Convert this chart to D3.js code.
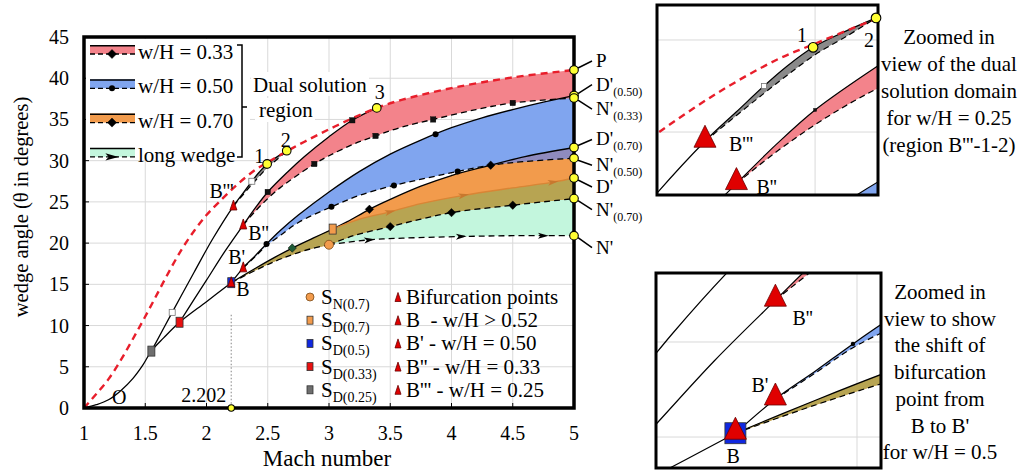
<!DOCTYPE html>
<html>
<head>
<meta charset="utf-8">
<script src="https://cdn.jsdelivr.net/npm/d3@7/dist/d3.min.js"></script>
<style>
  body { margin: 0; background: #fff; }
  svg, svg text { font-family: "Liberation Serif", "DejaVu Serif", "Tinos", "Times New Roman", Times, serif; }
  svg text { fill: #000; }
</style>
</head>
<body>
<svg id="chart" width="1028" height="472" font-family="Liberation Serif, DejaVu Serif, serif"></svg>
<script>
// ---- values: [Mach, wedge angle] ----
const machTicks = [1, 1.5, 2, 2.5, 3, 3.5, 4, 4.5, 5];
const thetaTicks = [0, 5, 10, 15, 20, 25, 30, 35, 40, 45];

// red dashed curve O -> P
const curveP = [[1, 0], [1.1, 1.7], [1.2, 3.5], [1.3, 5.8], [1.4, 8.4], [1.5, 11.1], [1.6, 13.9],
  [1.7, 16.7], [1.8, 19.3], [1.9, 21.5], [2.0, 23.4], [2.1, 24.95], [2.25, 27.1], [2.4, 28.9],
  [2.5, 29.8], [2.65, 31.1], [2.8, 32.3], [3.0, 33.8], [3.2, 35.2], [3.39, 36.4], [3.6, 37.4],
  [4.0, 38.8], [4.5, 40.1], [5.0, 41.0]];
// solid curve O -> B
const curveOB = [[1, 0], [1.1, 0.4], [1.2, 1.0], [1.3, 2.1], [1.4, 3.6], [1.48, 5.2], [1.55, 6.9],
  [1.65, 8.5], [1.78, 10.4], [2.0, 12.9], [2.202, 15.2]];
// w/H = 0.25
const w025Solid = [[1.55, 6.9], [1.72, 11.6], [1.9, 16.5], [2.05, 20.5], [2.22, 24.5], [2.30, 26.1],
  [2.37, 27.5], [2.43, 28.6], [2.495, 29.6], [2.57, 30.4], [2.655, 31.2]];
const w025Dash = [[2.22, 24.5], [2.30, 25.9], [2.37, 27.1], [2.43, 28.1], [2.5, 29.2], [2.58, 30.2], [2.655, 31.2]];
// w/H = 0.33
const w033Solid = [[1.78, 10.4], [1.9, 13.2], [2.0, 15.5], [2.15, 19.0], [2.30, 22.2], [2.4, 24.3],
  [2.5, 26.2], [2.66, 28.6], [2.8, 30.5], [3.0, 32.9], [3.19, 34.9], [3.39, 36.4]];
const w033Dash = [[2.30, 22.2], [2.4, 23.9], [2.5, 25.4], [2.6, 26.7], [2.7, 27.8], [2.88, 29.6],
  [3.0, 30.6], [3.2, 32.0], [3.38, 33.0], [3.6, 34.1], [3.85, 35.0], [4.2, 36.2], [4.5, 37.0], [5.0, 37.6]];
// w/H = 0.50
const w050Solid = [[2.202, 15.2], [2.30, 17.0], [2.40, 18.5], [2.49, 19.9], [2.6, 21.5], [2.75, 23.4],
  [3.0, 26.2], [3.25, 28.7], [3.5, 30.8], [3.75, 32.5], [4.0, 34.0], [4.25, 35.2], [4.5, 36.2],
  [4.75, 37.1], [5.0, 37.9]];
const w050Dash = [[2.30, 17.0], [2.40, 18.4], [2.49, 19.7], [2.6, 20.9], [2.75, 22.5], [3.02, 24.4],
  [3.25, 25.8], [3.53, 27.0], [3.8, 27.9], [4.05, 28.7], [4.32, 29.45], [4.6, 29.9], [5.0, 30.3]];
// w/H = 0.70 and long wedge (common part starts at B)
const sharedTop = [[2.202, 15.2], [2.4, 16.95], [2.56, 18.3], [2.70, 19.4], [2.87, 20.6], [3.03, 21.7]];
const sharedBottom = [[2.202, 15.2], [2.4, 16.7], [2.56, 17.8], [2.7, 18.6], [2.85, 19.3], [3.0, 19.8]];
const w070Solid = [[3.03, 21.7], [3.15, 22.6], [3.33, 24.1], [3.5, 25.3], [3.75, 26.9], [4.0, 28.2],
  [4.32, 29.45], [4.6, 30.5], [5.0, 31.6]];
const w070Dash = [[3.0, 19.8], [3.2, 20.9], [3.5, 22.0], [3.75, 22.9], [4.0, 23.7], [4.5, 24.6], [5.0, 25.4]];
const longTop = [[3.03, 21.7], [3.25, 22.9], [3.5, 23.8], [3.75, 24.8], [4.1, 25.8], [4.5, 26.7],
  [4.83, 27.4], [5.0, 27.9]];
const longDash = [[3.0, 19.8], [3.33, 20.4], [3.6, 20.6], [4.08, 20.8], [4.5, 20.9], [5.0, 20.9]];
const crossing = 4.32; // w/H=0.70 upper meets w/H=0.50 lower

// markers on the curves
const w025Marks = [[1.72, 11.6], [2.37, 27.5]];
const w033Marks = [[2.5, 26.2], [3.19, 34.9], [2.88, 29.6], [3.38, 33.0], [3.85, 35.0], [4.5, 37.0]];
const w050Marks = [[2.49, 19.9], [3.87, 33.2], [3.02, 24.4], [3.53, 27.0], [4.05, 28.7]];
const w070Marks = [[3.33, 24.1], [4.32, 29.45], [3.5, 22.0], [4.0, 23.7], [4.5, 24.6]];
const longDiamond = [[2.70, 19.4]];
const longTopArrows = [[3.5, 23.8], [4.1, 25.8], [4.83, 27.4]];
const longDashArrows = [[3.33, 20.4], [4.08, 20.8], [4.75, 20.9]];

const sPoints = [
  { sub: "N(0.7)", shape: "circle", m: 3.0, t: 19.8, fill: "#f29b4c" },
  { sub: "D(0.7)", shape: "square", m: 3.03, t: 21.7, fill: "#f29b4c" },
  { sub: "D(0.5)", shape: "square", m: 2.202, t: 15.2, fill: "#1028e0" },
  { sub: "D(0.33)", shape: "square", m: 1.78, t: 10.4, fill: "#e81010" },
  { sub: "D(0.25)", shape: "square", m: 1.55, t: 6.9, fill: "#6e6e6e" }
];
const bifurcations = [
  { name: "B", m: 2.202, t: 15.2, text: "B  - w/H > 0.52" },
  { name: "B'", m: 2.30, t: 17.0, text: "B' - w/H = 0.50" },
  { name: "B''", m: 2.30, t: 22.2, text: "B'' - w/H = 0.33" },
  { name: "B'''", m: 2.22, t: 24.5, text: "B''' - w/H = 0.25" }
];
const numberedPoints = [
  { label: "1", m: 2.495, t: 29.6 },
  { label: "2", m: 2.655, t: 31.2 },
  { label: "3", m: 3.39, t: 36.4 }
];
const endPoints = [
  { name: "P", sub: "", t: curveP[curveP.length - 1][1], dy: -9 },
  { name: "D'", sub: "(0.50)", t: w050Solid[w050Solid.length - 1][1], dy: -11 },
  { name: "N'", sub: "(0.33)", t: w033Dash[w033Dash.length - 1][1], dy: 11 },
  { name: "D'", sub: "(0.70)", t: w070Solid[w070Solid.length - 1][1], dy: -8 },
  { name: "N'", sub: "(0.50)", t: w050Dash[w050Dash.length - 1][1], dy: 7 },
  { name: "D'", sub: "", t: longTop[longTop.length - 1][1], dy: 9 },
  { name: "N'", sub: "(0.70)", t: w070Dash[w070Dash.length - 1][1], dy: 11 },
  { name: "N'", sub: "", t: longDash[longDash.length - 1][1], dy: 12 }
];
const bifurcationMach = 2.202;

const legendWedges = [
  { label: "w/H = 0.33", fill: "#f3838b", mark: "diamond" },
  { label: "w/H = 0.50", fill: "#80a5ef", mark: "dot" },
  { label: "w/H = 0.70", fill: "#f29b4c", mark: "diamond" },
  { label: "long wedge", fill: "#c3f6dd", mark: "arrow" }
];
const inset1Text = ["Zoomed in", "view of the dual", "solution domain", "for w/H = 0.25", "(region B'''-1-2)"];
const inset2Text = ["Zoomed in", "view to show", "the shift of", "bifurcation", "point from", "B to B'", "for w/H = 0.5"];

// ---- colours ----
const C = {
  red: "#f3838b", blue: "#80a5ef", orange: "#f29b4c", olive: "#b7a452",
  mint: "#c3f6dd", purple: "#8f8bbf", gray: "#8a8a8a",
  redLine: "#e81e2b", orangeLine: "#d98535", grid: "#d9d9d9", yellow: "#ffff33"
};

const svg = d3.select("#chart");
const defs = svg.append("defs");
function clip(id, x0, y0, w, h) {
  defs.append("clipPath").attr("id", id).append("rect")
    .attr("x", x0).attr("y", y0).attr("width", w).attr("height", h);
  return `url(#${id})`;
}

// ---- mark helpers ----
function rectMark(g, cx, cy, w, h, fill, stroke, sw) {
  g.append("rect").attr("x", cx - w / 2).attr("y", cy - h / 2).attr("width", w).attr("height", h)
    .attr("fill", fill).attr("stroke", stroke).attr("stroke-width", sw);
}
function diamondMark(g, cx, cy, r, fill) {
  g.append("path").attr("d", `M${cx},${cy - r}L${cx + r},${cy}L${cx},${cy + r}L${cx - r},${cy}Z`)
    .attr("fill", fill).attr("stroke", "#000").attr("stroke-width", 0.5);
}
function triMark(g, cx, cy, w, h) {
  g.append("path")
    .attr("d", `M${cx},${cy - h / 2}L${cx + w / 2},${cy + h / 2}L${cx - w / 2},${cy + h / 2}Z`)
    .attr("fill", "#e00000").attr("stroke", "#6a0000").attr("stroke-width", 0.8);
}
function arrowMark(g, cx, cy, ang, L, color) {
  g.append("path")
    .attr("d", `M${L * 0.6},0L${-L * 0.6},${-L * 0.33}L${-L * 0.3},0L${-L * 0.6},${L * 0.33}Z`)
    .attr("transform", `translate(${cx},${cy}) rotate(${ang})`).attr("fill", color);
}
function slopeAngle(curve, m, sx, sy) {
  let i = curve.findIndex((d, k) => k < curve.length - 1 && curve[k + 1][0] >= m);
  if (i < 0) i = curve.length - 2;
  const a = curve[i], b = curve[i + 1];
  return Math.atan2(sy(b[1]) - sy(a[1]), sx(b[0]) - sx(a[0])) * 180 / Math.PI;
}

// ---- one view of the data (main plot or zoomed inset) ----
function drawView(g, sx, sy, sz) {
  const line = d3.line().x(d => sx(d[0])).y(d => sy(d[1])).curve(d3.curveCatmullRom.alpha(0.5));
  const band = (top, bot) => line(top) + line(bot.slice().reverse()).replace(/^M/, "L") + "Z";
  const from = (arr, m) => arr.filter(d => d[0] >= m - 1e-9);
  const [mLo, mHi] = sx.domain(), [tLo, tHi] = sy.domain();

  g.append("g").selectAll("line").data(machTicks.filter(v => v > mLo && v < mHi)).join("line")
    .attr("x1", d => sx(d)).attr("x2", d => sx(d)).attr("y1", sy(tLo)).attr("y2", sy(tHi))
    .attr("stroke", C.grid).attr("stroke-width", 1);
  g.append("g").selectAll("line").data(thetaTicks.filter(v => v > tLo && v < tHi)).join("line")
    .attr("y1", d => sy(d)).attr("y2", d => sy(d)).attr("x1", sx(mLo)).attr("x2", sx(mHi))
    .attr("stroke", C.grid).attr("stroke-width", 1);

  const topLong = sharedTop.concat(longTop.slice(1));
  const botLong = sharedBottom.concat(longDash.slice(1));
  const top070 = sharedTop.concat(w070Solid.slice(1));
  const bot070 = sharedBottom.concat(w070Dash.slice(1));
  const fills = [
    [band(topLong, botLong), C.mint],
    [band(top070, bot070), C.orange],
    [band(topLong, bot070), C.olive],
    [band(from(w050Solid, 2.30), w050Dash), C.blue],
    [band(from(top070, crossing), from(w050Dash, crossing)), C.purple],
    [band(from(w033Solid, 2.30).concat(curveP.filter(d => d[0] > 3.39)), w033Dash), C.red],
    [band(from(w025Solid, 2.22), w025Dash), C.gray]
  ];
  g.append("g").selectAll("path").data(fills).join("path")
    .attr("d", d => d[0]).attr("fill", d => d[1]);

  const dash = "6,4";
  const strokes = [
    [curveOB, "#000", null], [w025Solid, "#000", null], [w025Dash, "#000", dash],
    [w033Solid, "#000", null], [w033Dash, "#000", dash],
    [w050Solid, "#000", null], [w050Dash, "#000", dash],
    [sharedTop, "#000", null], [w070Solid, "#000", null], [longTop, C.orangeLine, null],
    [sharedBottom, "#000", dash], [w070Dash, "#000", dash], [longDash, "#000", dash]
  ];
  g.append("g").selectAll("path").data(strokes).join("path")
    .attr("d", d => line(d[0])).attr("fill", "none").attr("stroke", d => d[1])
    .attr("stroke-width", sz.sw).attr("stroke-dasharray", d => d[2]);
  g.append("path").attr("d", line(curveP)).attr("fill", "none").attr("stroke", C.redLine)
    .attr("stroke-width", 2.4).attr("stroke-dasharray", "7,5");

  const mk = g.append("g");
  w025Marks.forEach(d => rectMark(mk, sx(d[0]), sy(d[1]), sz.open, sz.open, "#fff", "#777", 0.8));
  w033Marks.forEach(d => rectMark(mk, sx(d[0]), sy(d[1]), sz.sq, sz.sq, "#111", "#000", 0.3));
  w050Marks.forEach(d => mk.append("circle").attr("cx", sx(d[0])).attr("cy", sy(d[1])).attr("r", sz.dot).attr("fill", "#000"));
  w070Marks.forEach(d => diamondMark(mk, sx(d[0]), sy(d[1]), sz.dia, "#000"));
  longDiamond.forEach(d => diamondMark(mk, sx(d[0]), sy(d[1]), sz.dia, "#1d5a36"));
  longTopArrows.forEach(d => arrowMark(mk, sx(d[0]), sy(d[1]), slopeAngle(topLong, d[0], sx, sy), sz.arrow, "#c8782e"));
  longDashArrows.forEach(d => arrowMark(mk, sx(d[0]), sy(d[1]), slopeAngle(botLong, d[0], sx, sy), sz.arrow, "#000"));

  sPoints.forEach(p => {
    if (p.shape === "circle") {
      mk.append("circle").attr("cx", sx(p.m)).attr("cy", sy(p.t)).attr("r", sz.sCirc)
        .attr("fill", p.fill).attr("stroke", "#7a4a18").attr("stroke-width", 0.8);
    } else {
      rectMark(mk, sx(p.m), sy(p.t), sz.bsq[0], sz.bsq[1], p.fill, "#333", 0.8);
    }
  });
  bifurcations.forEach(b => triMark(mk, sx(b.m), sy(b.t) - sz.triLift, sz.tri[0], sz.tri[1]));
}

function yellowPoint(g, cx, cy, r) {
  g.append("circle").attr("cx", cx).attr("cy", cy).attr("r", r)
    .attr("fill", C.yellow).attr("stroke", "#000").attr("stroke-width", 1.1);
}

// ---- main plot ----
const x = d3.scaleLinear().domain([1, 5]).range([84, 574]);
const y = d3.scaleLinear().domain([0, 45]).range([408, 37]);
const mainSizes = { tri: [7, 10], triLift: 1, bsq: [7, 10], sCirc: 4.5, dot: 3, sq: 5.5, dia: 4.2, open: 6, arrow: 9, sw: 1.3 };

const main = svg.append("g").attr("clip-path", clip("clipMain", 84, 37, 490, 371));
drawView(main, x, y, mainSizes);

// dotted marker of the bifurcation Mach number
svg.append("line").attr("x1", x(bifurcationMach)).attr("x2", x(bifurcationMach))
  .attr("y1", y(11.3)).attr("y2", y(0)).attr("stroke", "#999").attr("stroke-width", 1.2)
  .attr("stroke-dasharray", "1.5,2");

// axes ticks (inside) and labels
const axes = svg.append("g");
machTicks.slice(1, -1).forEach(m => axes.append("line").attr("x1", x(m)).attr("x2", x(m))
  .attr("y1", y(0)).attr("y2", y(0) - 5).attr("stroke", "#000").attr("stroke-width", 1));
thetaTicks.slice(1, -1).forEach(t => axes.append("line").attr("x1", x(1)).attr("x2", x(1) + 5)
  .attr("y1", y(t)).attr("y2", y(t)).attr("stroke", "#000").attr("stroke-width", 1));
axes.selectAll("text.xt").data(machTicks).join("text").attr("class", "xt")
  .attr("x", d => x(d)).attr("y", 440).attr("text-anchor", "middle").attr("font-size", 20)
  .text(d => d);
axes.selectAll("text.yt").data(thetaTicks).join("text").attr("class", "yt")
  .attr("x", 69).attr("y", d => y(d) + 7).attr("text-anchor", "end").attr("font-size", 20)
  .text(d => d);
svg.append("text").attr("x", 327).attr("y", 466).attr("text-anchor", "middle")
  .attr("font-size", 23).text("Mach number");
svg.append("text").attr("transform", "translate(28,207) rotate(-90)").attr("text-anchor", "middle")
  .attr("font-size", 20.5).text("wedge angle (\u03b8 in degrees)");

// frame
svg.append("rect").attr("x", 84).attr("y", 37).attr("width", 490).attr("height", 371)
  .attr("fill", "none").attr("stroke", "#000").attr("stroke-width", 3.5);

// yellow points and their labels
const ann = svg.append("g");
numberedPoints.forEach((p, i) => {
  yellowPoint(ann, x(p.m), y(p.t), 4.3);
  const off = [[-8, -1], [-1, -4], [3, -9]][i];
  ann.append("text").attr("x", x(p.m) + off[0]).attr("y", y(p.t) + off[1]).attr("text-anchor", "middle")
    .attr("font-size", 20).text(p.label);
});
endPoints.forEach(p => {
  const cy = y(p.t), ty = cy + p.dy;
  ann.append("line").attr("x1", 578).attr("y1", cy + Math.sign(p.dy) * 2).attr("x2", 592).attr("y2", ty)
    .attr("stroke", "#000").attr("stroke-width", 1.5);
});
endPoints.forEach(p => {
  const cy = y(p.t), ty = cy + p.dy;
  yellowPoint(ann, x(5), cy, 4.3);
  const t = ann.append("text").attr("x", 596).attr("y", ty + 6).attr("font-size", 19).text(p.name);
  if (p.sub) t.append("tspan").attr("font-size", 12).attr("dy", 5).text(p.sub);
});
yellowPoint(ann, x(bifurcationMach), y(0), 3.2);
ann.append("text").attr("x", x(bifurcationMach) - 5).attr("y", 402).attr("text-anchor", "end")
  .attr("font-size", 20).text("2.202");
ann.append("text").attr("x", 112).attr("y", 404).attr("font-size", 20).text("O");
const bOff = { "B": [5, 13], "B'": [-15, -4], "B''": [5, 15], "B'''": [-24, -8] };
bifurcations.forEach(b => ann.append("text").attr("x", x(b.m) + bOff[b.name][0])
  .attr("y", y(b.t) + bOff[b.name][1]).attr("font-size", 20).text(b.name));

// ---- legend: wedge regions (top left) ----
const lg = svg.append("g");
lg.append("rect").attr("x", 86).attr("y", 39).attr("width", 164).attr("height", 120).attr("fill", "#fff");
lg.append("rect").attr("x", 251).attr("y", 72).attr("width", 118).attr("height", 24).attr("fill", "#fff");
lg.append("rect").attr("x", 255).attr("y", 98).attr("width", 60).attr("height", 24).attr("fill", "#fff");
legendWedges.forEach((e, i) => {
  const top = 45 + i * 34.3, x0 = 90, x1 = 135, h = 9;
  lg.append("rect").attr("x", x0).attr("y", top).attr("width", x1 - x0).attr("height", h).attr("fill", e.fill);
  lg.append("line").attr("x1", x0).attr("x2", x1).attr("y1", top + 0.7).attr("y2", top + 0.7)
    .attr("stroke", "#000").attr("stroke-width", 1.5);
  lg.append("line").attr("x1", x0).attr("x2", x1).attr("y1", top + h).attr("y2", top + h)
    .attr("stroke", "#000").attr("stroke-width", 1.3).attr("stroke-dasharray", "5,3");
  const mx = 112, my = top + h;
  if (e.mark === "diamond") diamondMark(lg, mx, my, 4.5, "#000");
  else if (e.mark === "dot") lg.append("circle").attr("cx", mx).attr("cy", my).attr("r", 3).attr("fill", "#000");
  else arrowMark(lg, mx, my, 0, 11, "#000");
  lg.append("text").attr("x", 138).attr("y", top + 14).attr("font-size", 21).text(e.label);
});
lg.append("path").attr("d", "M237,45H242V157H237M242,107H247").attr("fill", "none")
  .attr("stroke", "#000").attr("stroke-width", 1.5);
lg.append("text").attr("x", 253).attr("y", 92).attr("font-size", 21).text("Dual solution");
lg.append("text").attr("x", 259).attr("y", 117).attr("font-size", 21).text("region");

// ---- legend: special points (bottom) ----
const lb = svg.append("g");
sPoints.forEach((p, i) => {
  const cy = 297 + i * 23.2;
  if (p.shape === "circle") lb.append("circle").attr("cx", 310).attr("cy", cy).attr("r", 4)
    .attr("fill", p.fill).attr("stroke", "#7a4a18").attr("stroke-width", 0.8);
  else rectMark(lb, 310, cy, 6, 8, p.fill, "#333", 0.8);
  const t = lb.append("text").attr("x", 321).attr("y", cy + 7).attr("font-size", 21).text("S");
  t.append("tspan").attr("font-size", 14).attr("dy", 5).text(p.sub);
});
["Bifurcation points"].concat(bifurcations.map(b => b.text)).forEach((s, i) => {
  const cy = 297 + i * 23.2;
  triMark(lb, 398, cy, 6, 9);
  lb.append("text").attr("x", 406).attr("y", cy + 7).attr("font-size", 21)
    .style("white-space", "pre").text(s);
});

// ---- inset 1: dual solution domain for w/H = 0.25 ----
const insetSizes = { tri: [22, 22], triLift: 5, bsq: [21, 21], sCirc: 6, dot: 2.2, sq: 3.2, dia: 2.8, open: 5, arrow: 9, sw: 1.2 };
const x1 = d3.scaleLinear().domain([2.098, 2.660]).range([657, 878]);
const y1 = d3.scaleLinear().domain([21.58, 31.90]).range([195, 5]);
const in1 = svg.append("g").attr("clip-path", clip("clipIn1", 657, 5, 221, 190));
in1.append("rect").attr("x", 657).attr("y", 5).attr("width", 221).attr("height", 190).attr("fill", "#fff");
drawView(in1, x1, y1, insetSizes);
svg.append("rect").attr("x", 657).attr("y", 5).attr("width", 221).attr("height", 190)
  .attr("fill", "none").attr("stroke", "#000").attr("stroke-width", 3);
const a1 = svg.append("g");
numberedPoints.filter(p => p.m < 2.7).forEach((p, i) => {
  yellowPoint(a1, x1(p.m), y1(p.t), 4.8);
  const off = [[-11, -5], [-7, 29]][i];
  a1.append("text").attr("x", x1(p.m) + off[0]).attr("y", y1(p.t) + off[1]).attr("text-anchor", "middle")
    .attr("font-size", 20).text(p.label);
});
const in1Off = { "B''": [20, 10], "B'''": [24, 10] };
bifurcations.filter(b => in1Off[b.name]).forEach(b => a1.append("text")
  .attr("x", x1(b.m) + in1Off[b.name][0]).attr("y", y1(b.t) + in1Off[b.name][1])
  .attr("font-size", 20).text(b.name));
inset1Text.forEach((s, i) => svg.append("text").attr("x", 949).attr("y", 44 + i * 27)
  .attr("text-anchor", "middle").attr("font-size", 21).text(s));

// ---- inset 2: shift of bifurcation point B -> B' ----
const x2 = d3.scaleLinear().domain([2.0074, 2.5588]).range([656, 881]);
const y2 = d3.scaleLinear().domain([13.37, 23.63]).range([468, 273]);
const in2 = svg.append("g").attr("clip-path", clip("clipIn2", 656, 273, 225, 195));
in2.append("rect").attr("x", 656).attr("y", 273).attr("width", 225).attr("height", 195).attr("fill", "#fff");
drawView(in2, x2, y2, insetSizes);
svg.append("rect").attr("x", 656).attr("y", 273).attr("width", 225).attr("height", 195)
  .attr("fill", "none").attr("stroke", "#000").attr("stroke-width", 3);
const in2Off = { "B": [-9, 30], "B'": [-24, -7], "B''": [17, 25] };
bifurcations.filter(b => in2Off[b.name]).forEach(b => svg.append("text")
  .attr("x", x2(b.m) + in2Off[b.name][0]).attr("y", y2(b.t) + in2Off[b.name][1])
  .attr("font-size", 20).text(b.name));
inset2Text.forEach((s, i) => svg.append("text").attr("x", 940).attr("y", 299 + i * 26.7)
  .attr("text-anchor", "middle").attr("font-size", 21).text(s));
</script>
</body>
</html>
